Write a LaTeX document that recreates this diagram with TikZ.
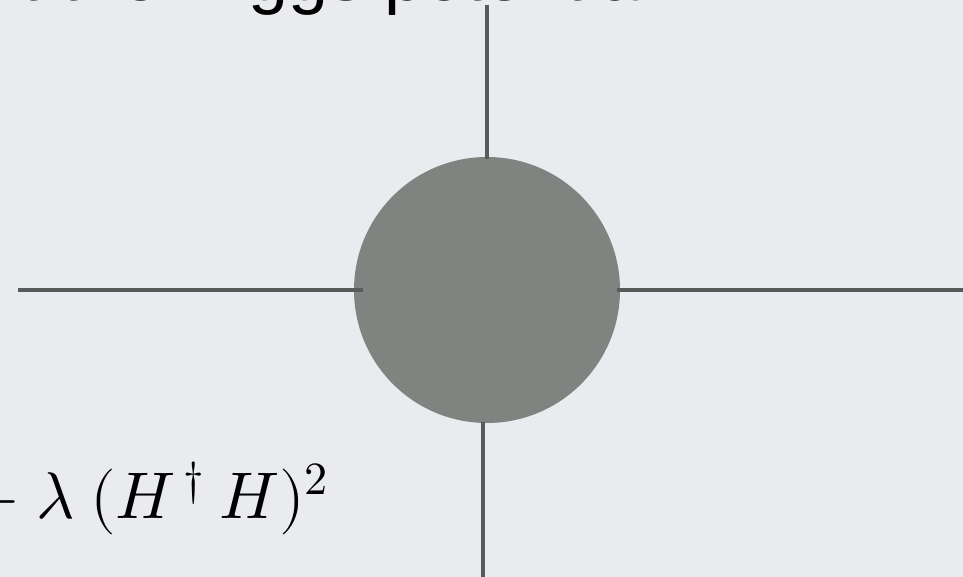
\documentclass[tikz,border=0pt]{standalone}
\usepackage{fontspec}
\setmainfont{Liberation Sans}
\usepackage{unicode-math}
\setmathfont{Latin Modern Math}
\definecolor{bg}{HTML}{E9EBEE}
\definecolor{blob}{HTML}{7F8481}
\definecolor{leg}{HTML}{575B59}
\tikzset{
  legline/.style={draw=leg, line width=4.8pt},
  vertexblob/.style={circle, fill=blob, minimum size=266pt, inner sep=0pt},
}
\begin{document}
\begin{tikzpicture}[x=1pt,y=-1pt]
\useasboundingbox (0,0) rectangle (963,577);
\fill[bg] (0,0) rectangle (963,577);
\begin{scope}
\clip (0,0) rectangle (963,577);
\node[anchor=base east, inner sep=0pt, font=\fontsize{72}{80}\selectfont] (title) at (657,1) {t the Higgs potential};
\node[anchor=base west, inner sep=0pt, font=\fontsize{66}{74}\selectfont] (formula) at (-33,518) {$\mathord{-}\mskip5mu\lambda\mskip4mu(H^{\,\dagger}\mskip4mu H)^2$};
\end{scope}
\node[vertexblob] (v) at (487,290) {};
\coordinate (topend) at (487,5);
\coordinate (topin) at (487,159);
\coordinate (botend) at (483,577);
\coordinate (botin) at (483,422);
\coordinate (leftend) at (18,290);
\coordinate (leftin) at (363,290);
\coordinate (rightend) at (963,290);
\coordinate (rightin) at (617,290);
\draw[legline] (topend) -- (topin);
\draw[legline] (botin) -- (botend);
\draw[legline] (leftend) -- (leftin);
\draw[legline] (rightin) -- (rightend);
\end{tikzpicture}
\end{document}
